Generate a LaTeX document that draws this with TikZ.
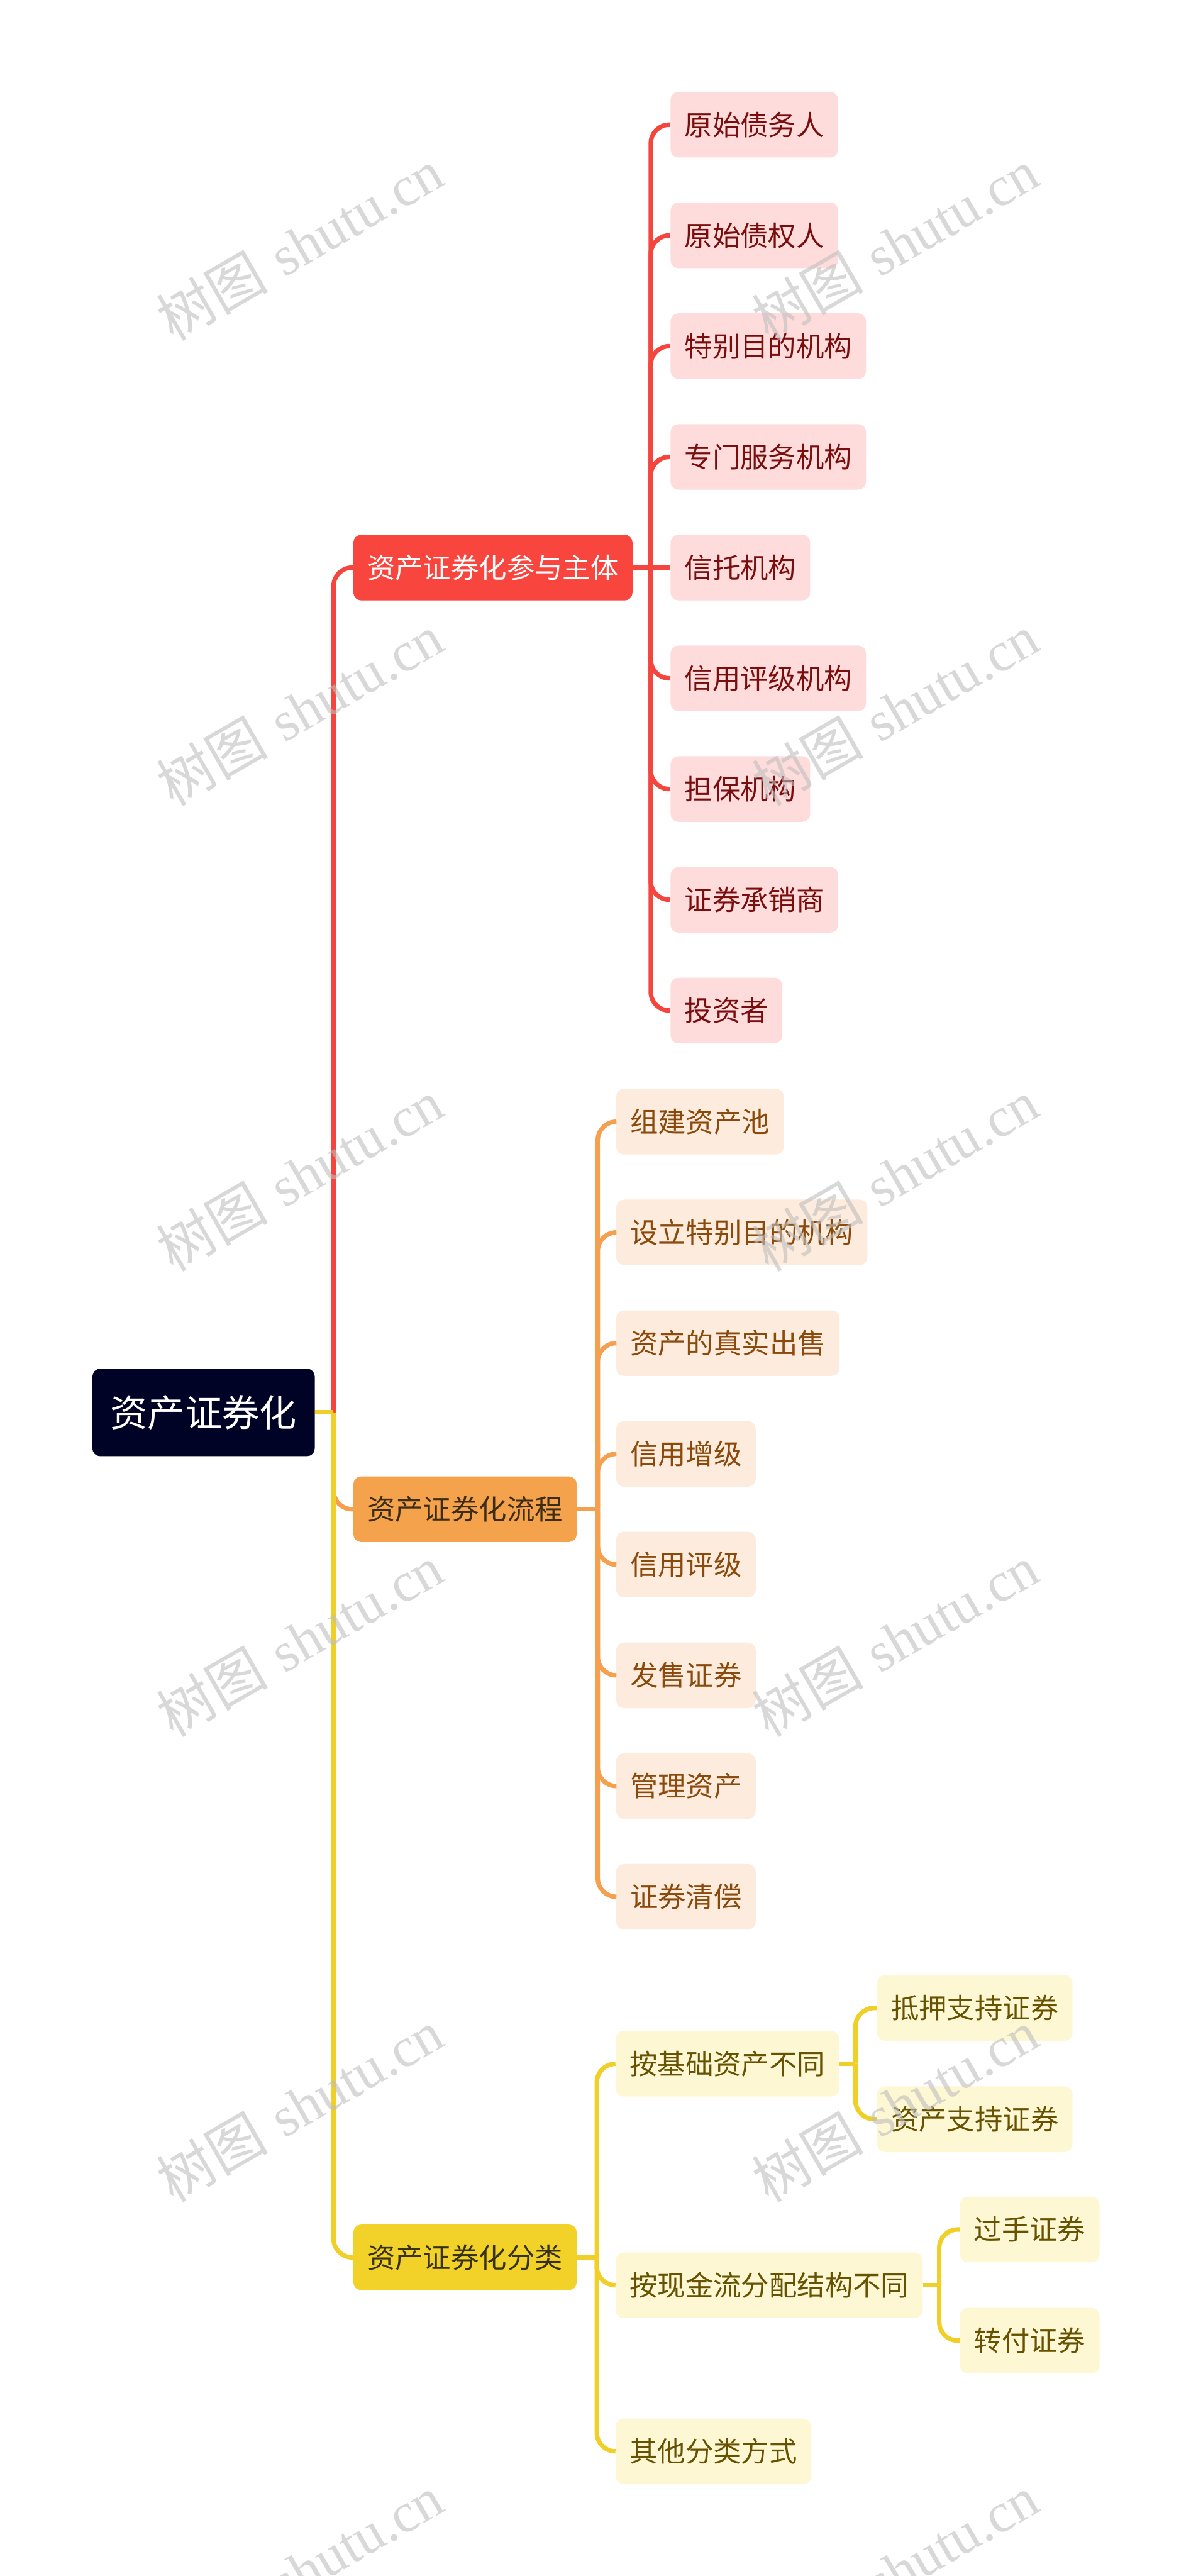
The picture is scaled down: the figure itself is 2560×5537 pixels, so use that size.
\documentclass[tikz,border=0pt]{standalone}
\usepackage{fontspec}
\newfontfamily\cjk{Noto Sans CJK SC}
\newfontfamily\wmfont{Liberation Serif}
\definecolor{rootfill}{RGB}{1,3,38}
\definecolor{redline}{RGB}{244,70,62}
\definecolor{redmain}{RGB}{248,69,61}
\definecolor{redleaf}{RGB}{253,220,219}
\definecolor{redtext}{RGB}{122,14,14}
\definecolor{orline}{RGB}{244,160,78}
\definecolor{ormain}{RGB}{245,162,76}
\definecolor{orleaf}{RGB}{253,236,221}
\definecolor{ortext}{RGB}{138,74,12}
\definecolor{ormaintext}{RGB}{60,45,20}
\definecolor{yeline}{RGB}{240,208,40}
\definecolor{yemain}{RGB}{242,210,40}
\definecolor{yeleaf}{RGB}{253,247,212}
\definecolor{yetext}{RGB}{102,82,0}
\definecolor{yemaintext}{RGB}{55,50,20}
\definecolor{wmgray}{RGB}{190,190,190}
\begin{document}
\begin{tikzpicture}[x=0.3pt,y=-0.3pt,
  basebox/.style={anchor=west, rounded corners=5pt, minimum height=42.3pt,
    inner xsep=9pt, inner ysep=0pt, font=\cjk\fontsize{18}{18}\selectfont},
  rootbox/.style={anchor=west, rounded corners=5pt, fill=rootfill, text=white,
    minimum height=56.4pt, inner xsep=11.7pt, inner ysep=0pt,
    font=\cjk\fontsize{24}{24}\selectfont},
  rmain/.style={basebox, fill=redmain, text=white},
  rleaf/.style={basebox, fill=redleaf, text=redtext},
  omain/.style={basebox, fill=ormain, text=ormaintext},
  oleaf/.style={basebox, fill=orleaf, text=ortext},
  ymain/.style={basebox, fill=yemain, text=yemaintext},
  yleaf/.style={basebox, fill=yeleaf, text=yetext},
  conn/.style={line width=2.9pt, rounded corners=12pt},
  rconn/.style={conn, draw=redline},
  oconn/.style={conn, draw=orline},
  yconn/.style={conn, draw=yeline},
  wm/.style={rotate=30, text=wmgray, opacity=0.6, font=\fontsize{36}{36}\selectfont}
]
\useasboundingbox (0,0) rectangle (2560,5537);
\fill[white] (0,0) rectangle (2560,5537);

% nodes
\node[rootbox] (root) at (198,3036) {资产证券化};
\node[rmain] (P) at (759,1220) {资产证券化参与主体};
\node[omain] (F) at (759,3244) {资产证券化流程};
\node[ymain] (C) at (759,4852) {资产证券化分类};

\foreach \t [count=\i] in {原始债务人,原始债权人,特别目的机构,专门服务机构,信托机构,信用评级机构,担保机构,证券承销商,投资者}
  \node[rleaf] (r\i) at (1441,{268+(\i-1)*238}) {\t};

\foreach \t [count=\i] in {组建资产池,设立特别目的机构,资产的真实出售,信用增级,信用评级,发售证券,管理资产,证券清偿}
  \node[oleaf] (o\i) at (1324,{2411+(\i-1)*238}) {\t};

\node[yleaf] (y1) at (1323,4436) {按基础资产不同};
\node[yleaf] (y2) at (1323,4912) {按现金流分配结构不同};
\node[yleaf] (y3) at (1323,5269) {其他分类方式};
\node[yleaf] (y11) at (1885,4316) {抵押支持证券};
\node[yleaf] (y12) at (1885,4555) {资产支持证券};
\node[yleaf] (y21) at (2063,4792) {过手证券};
\node[yleaf] (y22) at (2063,5031) {转付证券};

% junction coordinates
\coordinate (rj) at (717,3036);
\coordinate (rb) at (1399,1220);
\coordinate (ob) at (1285,3244);
\coordinate (yb) at (1283,4852);
\coordinate (y1b) at (1839,4436);
\coordinate (y2b) at (2019,4912);

% orange branch
\draw[oconn] (rj) |- (F.west);
\draw[oconn] (F.east) -- (ob);
\foreach \i in {1,...,8} \draw[oconn] (ob) |- (o\i.west);

% red branch
\draw[rconn] (rj) |- (P.west);
\draw[rconn] (P.east) -- (r5.west);
\foreach \i in {1,2,3,4,6,7,8,9} \draw[rconn] (rb) |- (r\i.west);

% yellow branch
\draw[yconn] (rj) |- (C.west);
\draw[yconn] (root.east) -- (rj);
\draw[yconn] (C.east) -- (yb);
\foreach \i in {1,2,3} \draw[yconn] (yb) |- (y\i.west);
\draw[yconn] (y1.east) -- (y1b);
\draw[yconn] (y1b) |- (y11.west);
\draw[yconn] (y1b) |- (y12.west);
\draw[yconn] (y2.east) -- (y2b);
\draw[yconn] (y2b) |- (y21.west);
\draw[yconn] (y2b) |- (y22.west);

% watermarks
\foreach \wy [count=\k] in {526,1526,2526,3526,4526,5526} {
  \node[wm] (wl\k) at (644,\wy) {{\cjk 树图} {\wmfont shutu.cn}};
  \node[wm] (wr\k) at (1924,\wy) {{\cjk 树图} {\wmfont shutu.cn}};
}
\end{tikzpicture}
\end{document}
